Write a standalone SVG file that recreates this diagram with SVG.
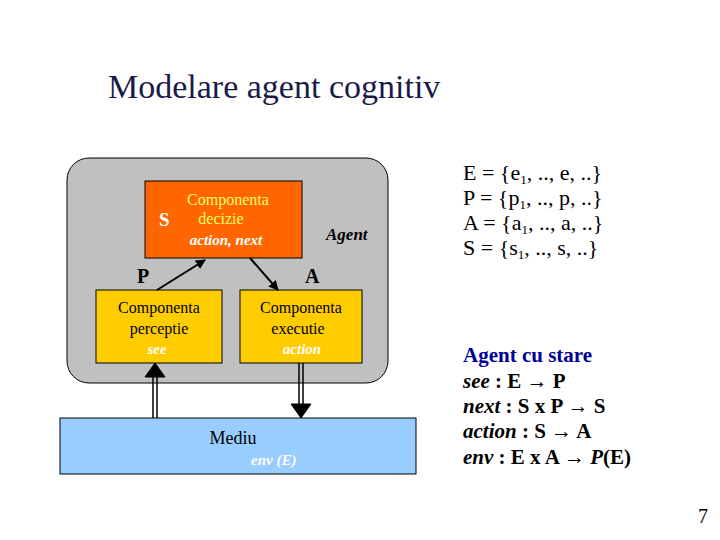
<svg xmlns="http://www.w3.org/2000/svg" width="720" height="540" viewBox="0 0 720 540" font-family="'Liberation Serif', serif">
<defs>
<style>
.b{stroke:#000;stroke-width:1}
.w{fill:#fff;font-style:italic;font-weight:bold;font-size:15px}
.r{font-size:22px}
</style>
<marker id="ah" markerWidth="10" markerHeight="10" refX="9" refY="5" orient="auto" markerUnits="userSpaceOnUse"><path d="M0,0L10,5L0,10z"/></marker>
</defs>
<rect width="720" height="540" fill="#fff"/>
<text x="108" y="98" font-size="34" fill="#1a1a4a">Modelare agent cognitiv</text>
<g id="agent"><rect x="67" y="158" width="321" height="225" rx="22" fill="#c0c0c0" class="b"/>
<text x="326" y="240" font-size="17" font-style="italic" font-weight="bold">Agent</text></g>
<g id="decizie"><rect x="145" y="181" width="157" height="77" fill="#ff6600" class="b"/>
<text x="159" y="226" font-size="19" font-weight="bold" fill="#fff">S</text>
<text x="228" y="205" font-size="16" fill="#ffff66" text-anchor="middle">Componenta</text>
<text x="221" y="224" font-size="16" fill="#ffff66" text-anchor="middle">decizie</text>
<text x="226" y="245" class="w" text-anchor="middle">action, next</text></g>
<g id="perceptie"><rect x="96" y="290" width="126" height="73" fill="#ffcc00" class="b"/>
<text x="159" y="313" font-size="16" text-anchor="middle">Componenta</text>
<text x="159" y="334" font-size="16" text-anchor="middle">perceptie</text>
<text x="157" y="354" class="w" text-anchor="middle">see</text></g>
<g id="executie"><rect x="240" y="290" width="122" height="73" fill="#ffcc00" class="b"/>
<text x="301" y="313" font-size="16" text-anchor="middle">Componenta</text>
<text x="298" y="334" font-size="16" text-anchor="middle">executie</text>
<text x="302" y="354" class="w" text-anchor="middle">action</text></g>
<g id="mediu"><rect x="60" y="418" width="356" height="56" fill="#99ccff" class="b"/>
<text x="233" y="444" font-size="18" text-anchor="middle">Mediu</text>
<text x="251" y="465" font-size="15" font-style="italic" font-weight="bold" fill="#fff">env (E)</text></g>
<g id="connectors" stroke="#000">
<line x1="157" y1="290" x2="205" y2="260" stroke-width="2" marker-end="url(#ah)"/>
<line x1="250" y1="258" x2="278" y2="290" stroke-width="2" marker-end="url(#ah)"/>
<path d="M153,418V375M157,418V375" stroke-width="1.5"/>
<path d="M145,377L155,363L165,377z" fill="#000"/>
<path d="M299,363V405M303,363V405" stroke-width="1.5"/>
<path d="M291,404L301,418L311,404z" fill="#000"/>
</g>
<text x="137" y="283" font-size="20" font-weight="bold">P</text>
<text x="305" y="283" font-size="20" font-weight="bold">A</text>
<g class="r">
<text x="463" y="180">E = {e<tspan font-size="13" dy="4">1</tspan><tspan dy="-4">, .., e, ..}</tspan></text>
<text x="463" y="205">P = {p<tspan font-size="13" dy="4">1</tspan><tspan dy="-4">, .., p, ..}</tspan></text>
<text x="463" y="230">A = {a<tspan font-size="13" dy="4">1</tspan><tspan dy="-4">, .., a, ..}</tspan></text>
<text x="463" y="255">S = {s<tspan font-size="13" dy="4">1</tspan><tspan dy="-4">, .., s, ..}</tspan></text>
</g>
<g font-size="21" font-weight="bold">
<text x="463" y="362" fill="#000099">Agent cu stare</text>
<text x="463" y="388" font-style="italic">see<tspan font-style="normal"> : E → P</tspan></text>
<text x="463" y="413" font-style="italic">next<tspan font-style="normal"> : S x P → S</tspan></text>
<text x="463" y="438" font-style="italic">action<tspan font-style="normal"> : S → A</tspan></text>
<text x="463" y="464" font-style="italic">env<tspan font-style="normal"> : E x A → </tspan>P<tspan font-style="normal">(E)</tspan></text>
</g>
<text x="708" y="523" font-size="20" text-anchor="end">7</text>
</svg>
